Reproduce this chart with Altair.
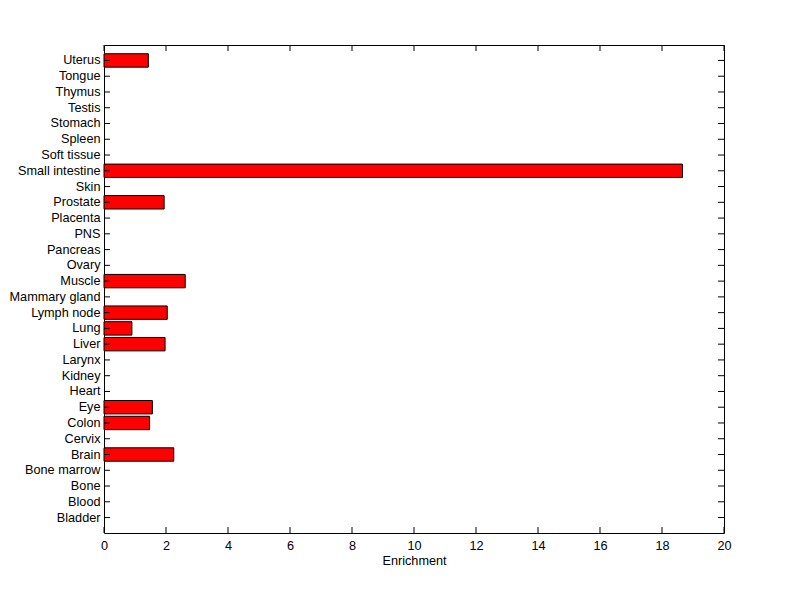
import altair as alt
import pandas as pd

tissues = ["Uterus", "Tongue", "Thymus", "Testis", "Stomach", "Spleen", "Soft tissue",
           "Small intestine", "Skin", "Prostate", "Placenta", "PNS", "Pancreas", "Ovary",
           "Muscle", "Mammary gland", "Lymph node", "Lung", "Liver", "Larynx", "Kidney",
           "Heart", "Eye", "Colon", "Cervix", "Brain", "Bone marrow", "Bone", "Blood", "Bladder"]
enrichment = [1.43, 0, 0, 0, 0, 0, 0,
              18.66, 0, 1.94, 0, 0, 0, 0,
              2.62, 0, 2.04, 0.90, 1.97, 0, 0,
              0, 1.56, 1.47, 0, 2.25, 0, 0, 0, 0]
x_ticks = [0, 2, 4, 6, 8, 10, 12, 14, 16, 18, 20]

W, H = 620, 488
FONT = "Liberation Sans"
FS = 12.7
TL = 6

df = pd.DataFrame({"tissue": tissues, "value": enrichment})
tk = pd.DataFrame({"tick": x_ticks})

yscale = alt.Scale(domain=tissues, paddingInner=0.15, paddingOuter=0.555)
xscale = alt.Scale(domain=[0, 20], nice=False, zero=True)

yaxis = alt.Axis(title=None, tickSize=0, domain=False, labelPadding=4,
                 labelFont=FONT, labelFontSize=FS, labelColor="black", grid=False)
xaxis = alt.Axis(values=x_ticks, title="Enrichment", tickSize=0, domain=False,
                 labelPadding=6, labelFlush=False, labelFont=FONT, labelFontSize=FS,
                 labelColor="black", titleFont=FONT, titleFontSize=FS,
                 titleFontWeight="normal", titleColor="black", titlePadding=3, grid=False)

bars = alt.Chart(df).transform_filter("datum.value > 0").mark_bar(
    color="#ff0000", stroke="black", strokeWidth=1
).encode(
    y=alt.Y("tissue:N", scale=yscale, sort=tissues, axis=yaxis),
    x=alt.X("value:Q", scale=xscale, axis=xaxis, title="Enrichment"),
)

ytick_left = alt.Chart(df).mark_rule(color="black", strokeWidth=1).encode(
    y=alt.Y("tissue:N", scale=yscale, sort=tissues, bandPosition=0.5, axis=yaxis),
    x=alt.value(0), x2=alt.value(TL),
)
ytick_right = alt.Chart(df).mark_rule(color="black", strokeWidth=1).encode(
    y=alt.Y("tissue:N", scale=yscale, sort=tissues, bandPosition=0.5, axis=yaxis),
    x=alt.value(W - TL), x2=alt.value(W),
)
xtick_top = alt.Chart(tk).mark_rule(color="black", strokeWidth=1).encode(
    x=alt.X("tick:Q", scale=xscale, axis=xaxis, title="Enrichment"),
    y=alt.value(0), y2=alt.value(TL),
)
xtick_bottom = alt.Chart(tk).mark_rule(color="black", strokeWidth=1).encode(
    x=alt.X("tick:Q", scale=xscale, axis=xaxis, title="Enrichment"),
    y=alt.value(H - TL), y2=alt.value(H),
)

chart = alt.layer(bars, ytick_left, ytick_right, xtick_top, xtick_bottom).properties(
    width=W, height=H,
    background="white",
    autosize=alt.AutoSizeParams(type="none"),
    padding={"left": 96, "top": 37, "right": 68, "bottom": 58},
).configure_view(stroke="black", strokeWidth=1, strokeOpacity=1)

chart.save("out.html", embed_options={"renderer": "svg", "actions": False})
